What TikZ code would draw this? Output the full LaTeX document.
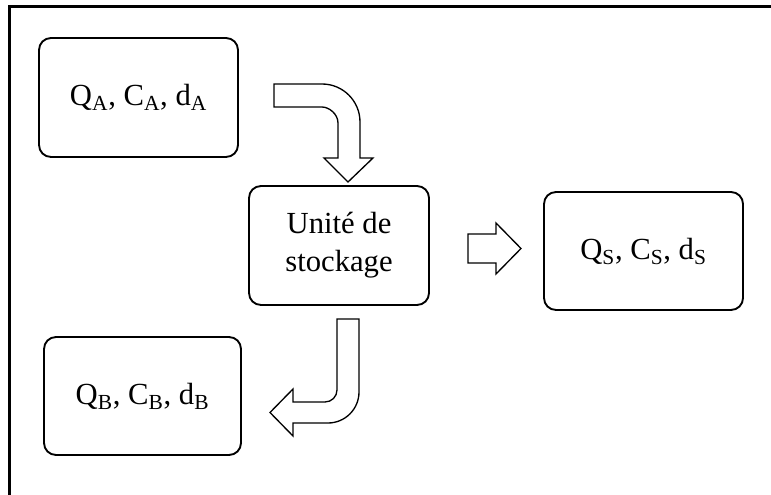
\documentclass[tikz,border=0pt]{standalone}
\usepackage{fontspec}
\setmainfont{Liberation Serif}
\begin{document}
\begin{tikzpicture}[x=0.75pt,y=-0.75pt,
  box/.style={draw=black, line width=1.4pt, rounded corners=9pt, fill=white,
    align=center, inner sep=0pt, font=\fontsize{23}{28.5}\selectfont},
  blockarrow/.style={draw=black, line width=1pt, fill=white, line join=miter}]
\useasboundingbox (0,0) rectangle (771,495);
\fill[white] (0,0) rectangle (771,495);
% outer frame (left and top edges visible)
\draw[line width=1.8pt] (9.5,495) -- (9.5,6.5) -- (771,6.5);
% boxes
\node[box, minimum width=149.25pt, minimum height=89.25pt] (A) at (138.5,97.5)
  {Q\textsubscript{A}, C\textsubscript{A}, d\textsubscript{A}};
\node[box, minimum width=135pt, minimum height=89.25pt] (U) at (339,245.5)
  {Unité de\\stockage};
\node[box, minimum width=149.25pt, minimum height=88.5pt] (S) at (643.5,251)
  {Q\textsubscript{S}, C\textsubscript{S}, d\textsubscript{S}};
\node[box, minimum width=147.75pt, minimum height=88.5pt] (B) at (142.5,396)
  {Q\textsubscript{B}, C\textsubscript{B}, d\textsubscript{B}};
% block arrow A -> U
\draw[blockarrow] (274,84) -- (322,84) .. controls (343,84) and (360,101) .. (360,122)
  -- (360,158) -- (373,158) -- (348,182) -- (324,158) -- (338,158) -- (338,123)
  .. controls (338,114) and (329,107) .. (322,107) -- (274,107) -- cycle;
% block arrow U -> S
\draw[blockarrow] (468,234) -- (496,234) -- (496,223) -- (521,248.5) -- (496,274)
  -- (496,263) -- (468,263) -- cycle;
% block arrow U -> B
\draw[blockarrow] (337,319) -- (359,319) -- (359,392)
  .. controls (359,409.1) and (345.1,423) .. (328,423) -- (293,423) -- (293,436)
  -- (270,412.5) -- (293,389) -- (293,402) -- (325,402)
  .. controls (331.6,402) and (337,396.6) .. (337,390) -- cycle;
\end{tikzpicture}
\end{document}
